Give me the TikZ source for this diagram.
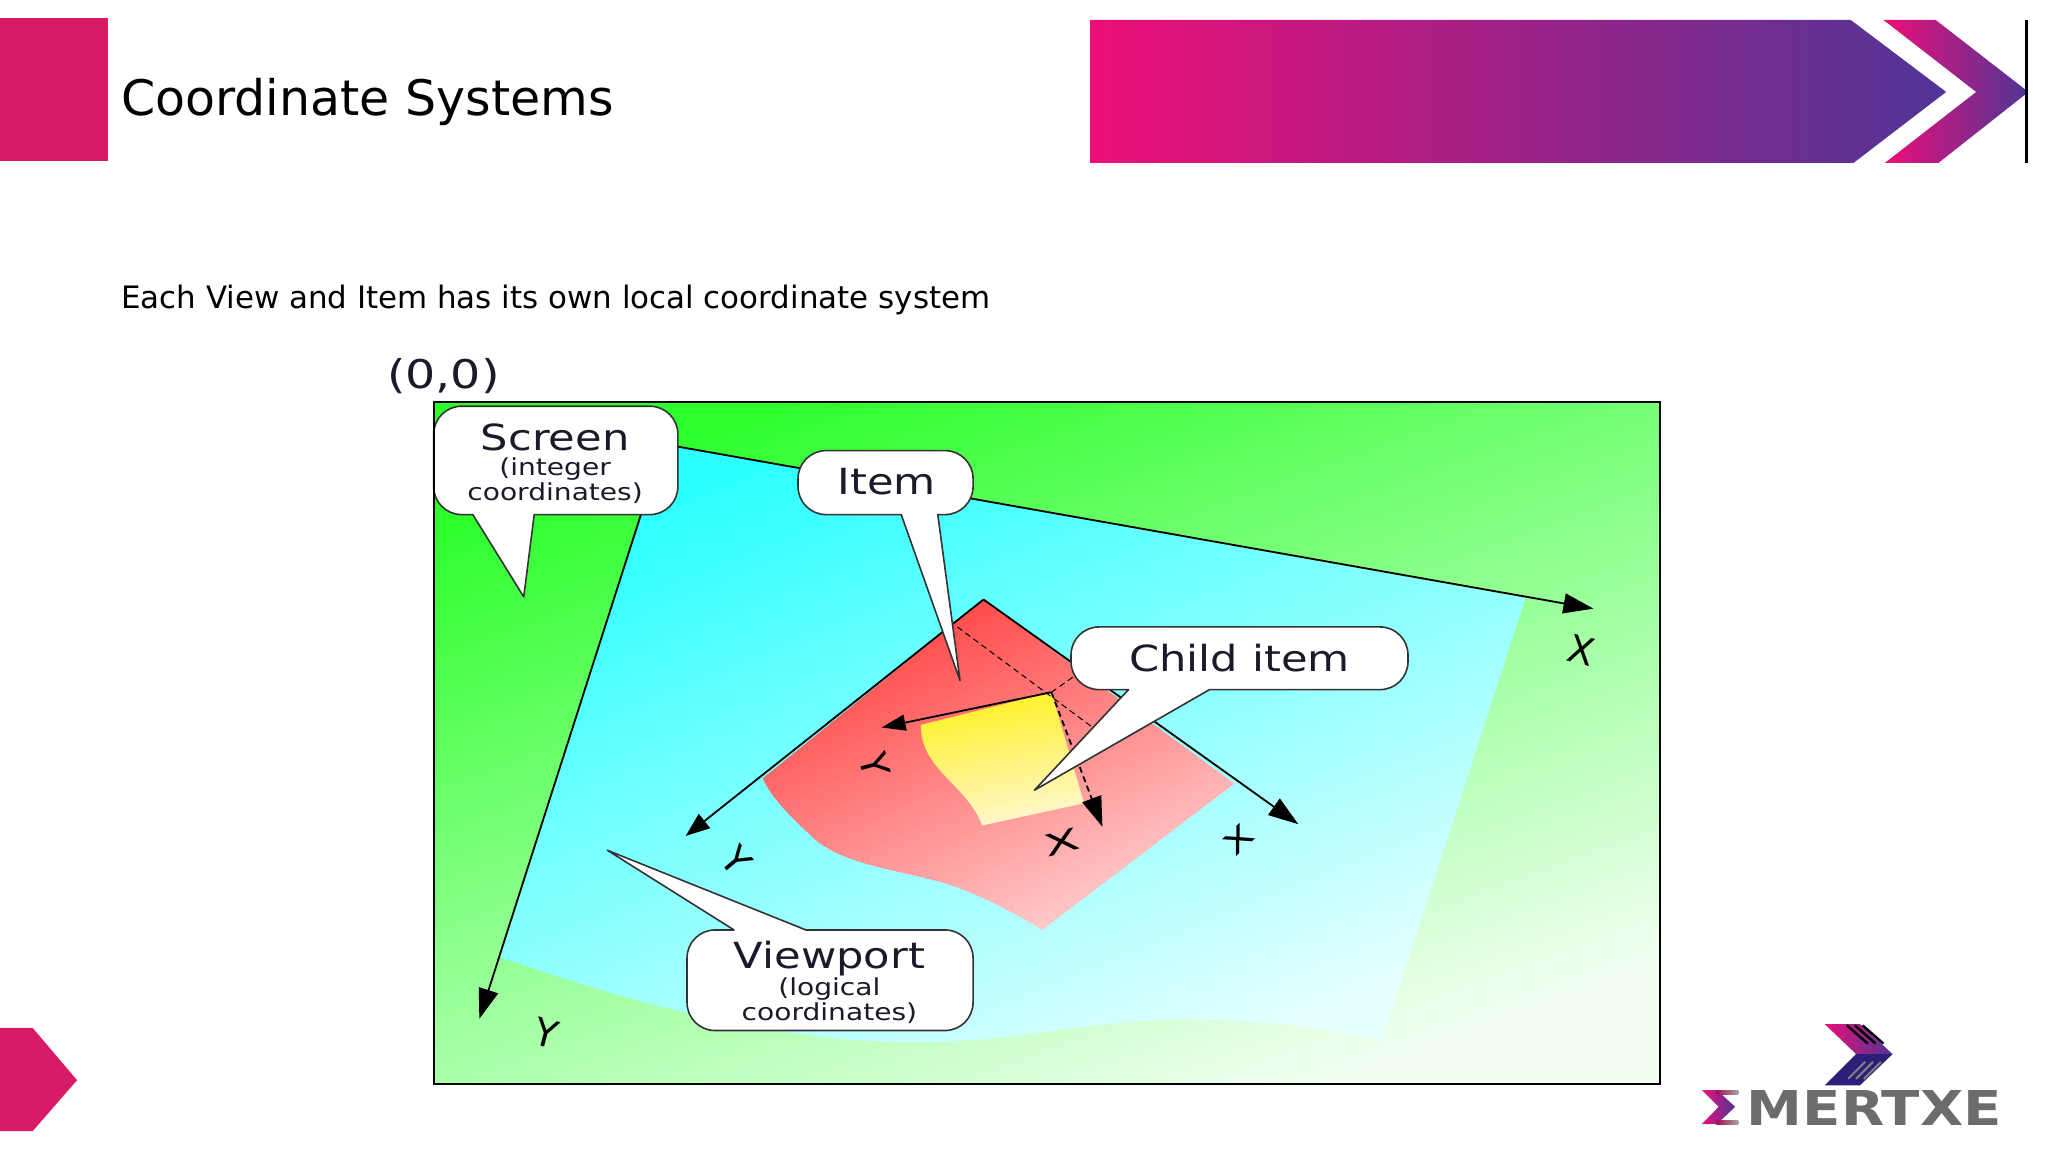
\documentclass[tikz,border=0pt]{standalone}
\usepackage{fontspec}
\setmainfont{DejaVu Sans}
\RequirePackage{xcolor}
\usetikzlibrary{arrows.meta}
\definecolor{slidepink}{HTML}{EC0F78}
\definecolor{slidecrimson}{HTML}{D81B66}
\definecolor{slidemid}{HTML}{A62082}
\definecolor{slidepurple}{HTML}{4F3596}
\definecolor{logoblue}{HTML}{2C1F78}
\definecolor{logogrey}{HTML}{6C6C6C}
\definecolor{screentl}{HTML}{2DFF2D}
\definecolor{screenbr}{HTML}{F2FFF2}
\definecolor{viewtl}{HTML}{2BFFFF}
\definecolor{viewbr}{HTML}{E6FFFF}
\definecolor{itemtl}{HTML}{FF4040}
\definecolor{itembr}{HTML}{FFD0D0}
\definecolor{childtl}{HTML}{FFF020}
\definecolor{childbr}{HTML}{FFF8D0}
\definecolor{labelink}{HTML}{1A1A2A}
\newcommand{\bigwordfont}{\fontsize{18}{18}\selectfont}
\tikzset{
  axisline/.style={draw=black, line width=0.9pt, -{Triangle[length=15pt,width=10pt]}},
  thinline/.style={draw=black, line width=0.5pt, densely dashed},
  callout/.style={draw=black!80, line width=0.8pt, fill=white, rounded corners=14pt, line join=round},
  labeltext/.style={align=center, inner sep=0pt, text=labelink, xscale=1.2, transform shape,
    font=\fontsize{11.7}{12.6}\selectfont},
  axislabel/.style={inner sep=0pt, text=black, transform shape, font=\fontsize{19}{19}\selectfont},
  bigword/.style={font=\bigwordfont}
}
\begin{document}
\begin{tikzpicture}[x=0.653pt, y=-0.653pt]
  \useasboundingbox (0,0) rectangle (1568,882);

  % slide decoration
  \fill [slidecrimson] (0,13.8) rectangle (82.7,123.3);
  \shade [left color=slidepink, middle color=slidemid, right color=slidepurple]
    (834.6,15.3) -- (1417,15.3) -- (1490,70.4) -- (1419,124.8) -- (834.6,124.8) -- cycle;
  \shade [left color=slidepink, right color=slidepurple]
    (1442,15.3) -- (1482,15.3) -- (1553,70.4) -- (1484,124.8) -- (1443,124.8) -- (1513,70.4) -- cycle;
  \draw [line width=1.3pt] (1551.4,15.3) -- (1551.4,124.8);
  \fill [slidecrimson] (0,787) -- (25,787) -- (59,827) -- (25,866) -- (0,866) -- cycle;

  \node [anchor=west, inner sep=0pt, font=\fontsize{24.5}{25}\selectfont] (title) at (92.5,78) {Coordinate Systems};
  \node [anchor=west, inner sep=0pt, font=\fontsize{15.45}{16}\selectfont] (subtitle) at (92.5,230) {Each View and Item has its own local coordinate system};

  % screen, viewport, item, child
  \shade [top color=screentl, bottom color=screenbr, shading angle=20] (332,308) rectangle (1271,830);
  \shade [top color=viewtl, bottom color=viewbr, shading angle=22]
    (508,340) -- (1168,458) -- (1058,797) .. controls (960,775) and (880,778) .. (800,790)
    .. controls (700,805) and (590,805) .. (383,733) -- cycle;
  \shade [top color=itemtl, bottom color=itembr, shading angle=25]
    (753,459) -- (945,600) -- (798,712) .. controls (770,695) and (740,680) .. (715,674)
    .. controls (680,665) and (640,660) .. (620,639) .. controls (605,625) and (590,610) .. (584,596) -- cycle;
  \shade [top color=childtl, bottom color=childbr, shading angle=10]
    (805,530) -- (830,615) -- (752,632) .. controls (740,600) and (705,590) .. (705,555) -- cycle;

  % axes
  \coordinate (screenorigin) at (508,340);
  \coordinate (screenx) at (1220,466);
  \coordinate (screeny) at (367,780);
  \coordinate (itemorigin) at (753,459);
  \coordinate (itemx) at (994,631);
  \coordinate (itemy) at (525,640);
  \coordinate (childorigin) at (805,530);
  \coordinate (childx) at (844,633);
  \coordinate (childy) at (675,557);
  \coordinate (childa) at (733,480);
  \coordinate (childb) at (838,558);
  \coordinate (childc) at (822,518);

  \draw [axisline] (screenorigin) -- (screenx);
  \draw [axisline] (screenorigin) -- (screeny);
  \draw [axisline] (itemorigin) -- (itemx);
  \draw [axisline, -{Triangle[length=12pt,width=9pt]}] (itemorigin) -- (itemy);
  \draw [thinline] (childa) -- (childb);
  \draw [thinline] (childorigin) -- (childc);
  \draw [axisline, -{Triangle[length=12pt,width=8pt]}] (childorigin) -- (childy);
  \draw [axisline, densely dashed, -{Triangle[length=15pt,width=10pt]}] (childorigin) -- (childx);

  \node [axislabel, rotate=-14] (screenxlabel) at (1211,498) {X};
  \node [axislabel, rotate=-15] (screenylabel) at (418,791) {Y};
  \node [axislabel, rotate=43, xscale=1.4, font=\fontsize{15}{15}\selectfont] (itemxlabel) at (948,643) {X};
  \node [axislabel, rotate=-50] (itemylabel) at (564,659) {Y};
  \node [axislabel, rotate=15, xscale=1.73, font=\fontsize{15}{15}\selectfont] (childxlabel) at (813,645) {X};
  \node [axislabel, rotate=-75] (childylabel) at (670,586) {Y};

  % callouts
  \draw [callout] (332,311) -- (519,311) -- (519,394) [sharp corners] -- (409,394) -- (401,457) -- (362,394) [rounded corners=14pt] -- (332,394) -- cycle;
  \draw [callout] (611,345) -- (745,345) -- (745,394) [sharp corners] -- (718,394) -- (735,521) -- (690,394) [rounded corners=14pt] -- (611,394) -- cycle;
  \draw [callout] (820,480) -- (1078,480) -- (1078,528) [sharp corners] -- (926,528) -- (792,605) -- (864,528) [rounded corners=14pt] -- (820,528) -- cycle;
  \draw [callout] (526,712) [sharp corners] -- (562,712) -- (465,651) -- (617,712) [rounded corners=14pt] -- (745,712) -- (745,789) -- (526,789) -- cycle;

  \node [labeltext] (screen) at (425,355) {{\bigwordfont Screen}\\(integer\\coordinates)};
  \node [labeltext, bigword] (item) at (679,369) {Item};
  \node [labeltext, bigword] (child) at (949,504) {Child item};
  \node [labeltext] (viewport) at (635,752) {{\bigwordfont Viewport}\\(logical\\coordinates)};
  \node [labeltext, font=\fontsize{19.8}{20}\selectfont] (origin) at (339.5,288) {(0,0)};

  \draw [black, line width=1pt] (332,308) rectangle (1271,830);

  % logo
  \shade [left color=slidepink, right color=slidepurple] (1397,784) -- (1424,784) -- (1449,807) -- (1421,807) -- cycle;
  \fill [logoblue] (1421,807) -- (1449,807) -- (1424,831) -- (1397,831) -- cycle;
  \draw [black, line width=1.2pt] (1414,785) -- (1430,799) (1420,785) -- (1436,799) (1426,785) -- (1442,799);
  \draw [gray, line width=1pt] (1415,826) -- (1428,813) (1421,826) -- (1434,813) (1427,826) -- (1440,813);
  \shade [left color=slidepink, right color=slidepurple]
    (1303,834.6) -- (1314.5,834.6) -- (1328.5,847.4) -- (1314.5,860.6) -- (1303,860.6) -- (1315.8,847.4) -- cycle;
  \shade [left color=slidepink!70!black, right color=logogrey!60] (1314,834.6) rectangle (1331,837.6);
  \shade [left color=slidepink!70!black, right color=logogrey!60] (1314,857.6) rectangle (1331,860.6);
  \node [anchor=west, inner sep=0pt, text=logogrey, xscale=1.17, transform shape, font=\fontsize{24}{24}\selectfont\bfseries] (logotext) at (1337,848) {MERTXE};
\end{tikzpicture}
\end{document}
